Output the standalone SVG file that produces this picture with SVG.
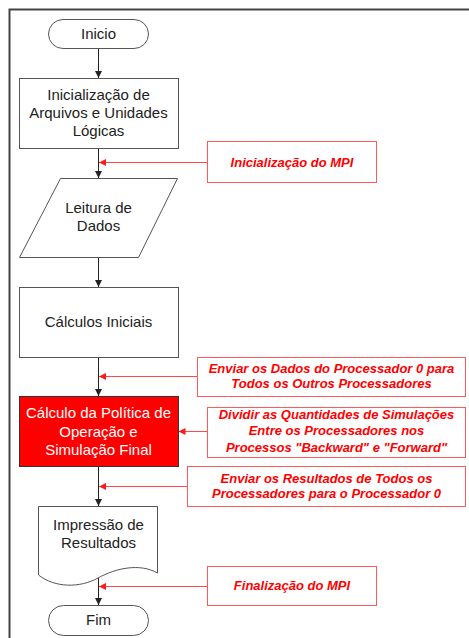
<svg xmlns="http://www.w3.org/2000/svg" width="469" height="638" viewBox="0 0 469 638">
<defs>
<marker id="ab" markerWidth="7" markerHeight="7" refX="7" refY="3.5" orient="auto" markerUnits="userSpaceOnUse"><path d="M0,0 L7,3.5 L0,7 Z" fill="#222"/></marker>
<marker id="ar" markerWidth="7" markerHeight="7" refX="7" refY="3.5" orient="auto" markerUnits="userSpaceOnUse"><path d="M0,0 L7,3.5 L0,7 Z" fill="#ff1a1a"/></marker>
</defs>
<style>
.n{fill:#fff;stroke:#555;stroke-width:1}
.t{font-family:"Liberation Sans",Arial,sans-serif;font-size:15px;fill:#222;text-anchor:middle}
.w{fill:#fff}
.r{fill:#fff;stroke:#ff5a5a;stroke-width:1}
.rt{font-family:"Liberation Sans",Arial,sans-serif;font-size:13px;font-weight:bold;font-style:italic;fill:#ff0000;text-anchor:middle}
.fl{stroke:#222;stroke-width:1;fill:none;marker-end:url(#ab)}
.rl{stroke:#ff4a4a;stroke-width:1;fill:none;marker-end:url(#ar)}
</style>
<rect width="469" height="638" fill="#fff"/>
<path d="M9.5,638 V9.5 H469" fill="none" stroke="#444" stroke-width="2"/>
<g id="connectors">
<line class="fl" x1="98.5" y1="48" x2="98.5" y2="78"/>
<line class="fl" x1="98.5" y1="148" x2="98.5" y2="178"/>
<line class="fl" x1="98.5" y1="257" x2="98.5" y2="287"/>
<line class="fl" x1="98.5" y1="357" x2="98.5" y2="396"/>
<line class="fl" x1="98.5" y1="466" x2="98.5" y2="506"/>
<line class="fl" x1="98.5" y1="578" x2="98.5" y2="605"/>
<line class="rl" x1="207" y1="162.5" x2="99" y2="162.5"/>
<line class="rl" x1="197" y1="376.5" x2="99" y2="376.5"/>
<line class="rl" x1="207" y1="431.5" x2="178.5" y2="431.5"/>
<line class="rl" x1="187" y1="486.5" x2="99" y2="486.5"/>
<line class="rl" x1="207" y1="586.5" x2="99" y2="586.5"/>
</g>
<g id="inicio">
<rect class="n" x="48.5" y="19.5" width="100" height="29" rx="14.5"/>
<text class="t" x="98.5" y="39">Inicio</text>
</g>
<g id="inicializacao">
<rect class="n" x="19.5" y="78.5" width="159" height="70"/>
<text class="t" x="98.5" y="100">Inicialização de</text>
<text class="t" x="98.5" y="118">Arquivos e Unidades</text>
<text class="t" x="98.5" y="136">Lógicas</text>
</g>
<g id="mpi-init">
<rect class="r" x="207.5" y="141.5" width="169" height="41"/>
<text class="rt" x="292" y="166.5">Inicialização do MPI</text>
</g>
<g id="leitura">
<path class="n" d="M60.5,178.5 H177.5 L138.5,257.5 H19.5 Z"/>
<text class="t" x="98.5" y="213">Leitura de</text>
<text class="t" x="98.5" y="231">Dados</text>
</g>
<g id="calculos">
<rect class="n" x="19.5" y="287.5" width="159" height="70"/>
<text class="t" x="98.5" y="327">Cálculos Iniciais</text>
</g>
<g id="enviar-dados">
<rect class="r" x="197.5" y="357.5" width="268" height="39"/>
<text class="rt" x="331.5" y="372.5">Enviar os Dados do Processador 0 para</text>
<text class="rt" x="331.5" y="387.5">Todos os Outros Processadores</text>
</g>
<g id="calculo-politica">
<rect x="19.5" y="396.5" width="159" height="70" fill="#ff0000" stroke="#333" stroke-width="1"/>
<text class="t w" x="98.5" y="418">Cálculo da Política de</text>
<text class="t w" x="98.5" y="437">Operação e</text>
<text class="t w" x="98.5" y="455">Simulação Final</text>
</g>
<g id="dividir">
<rect class="r" x="207.5" y="407.5" width="258" height="50"/>
<text class="rt" x="336.5" y="418.5">Dividir as Quantidades de Simulações</text>
<text class="rt" x="336.5" y="435">Entre os Processadores nos</text>
<text class="rt" x="336.5" y="451.5">Processos "Backward" e "Forward"</text>
</g>
<g id="enviar-resultados">
<rect class="r" x="187.5" y="466.5" width="278" height="40"/>
<text class="rt" x="326.5" y="482.5">Enviar os Resultados de Todos os</text>
<text class="rt" x="326.5" y="497.5">Processadores para o Processador 0</text>
</g>
<g id="impressao">
<path class="n" d="M38.5,506.5 H157.5 V573 C140,563 116,568 98,578 C80,588 55,588 38.5,575 Z"/>
<text class="t" x="98.5" y="530">Impressão de</text>
<text class="t" x="98.5" y="548">Resultados</text>
</g>
<g id="mpi-fim">
<rect class="r" x="207.5" y="566.5" width="169" height="39"/>
<text class="rt" x="292" y="590">Finalização do MPI</text>
</g>
<g id="fim">
<rect class="n" x="48.5" y="605.5" width="100" height="30" rx="15"/>
<text class="t" x="98.5" y="625">Fim</text>
</g>
</svg>
